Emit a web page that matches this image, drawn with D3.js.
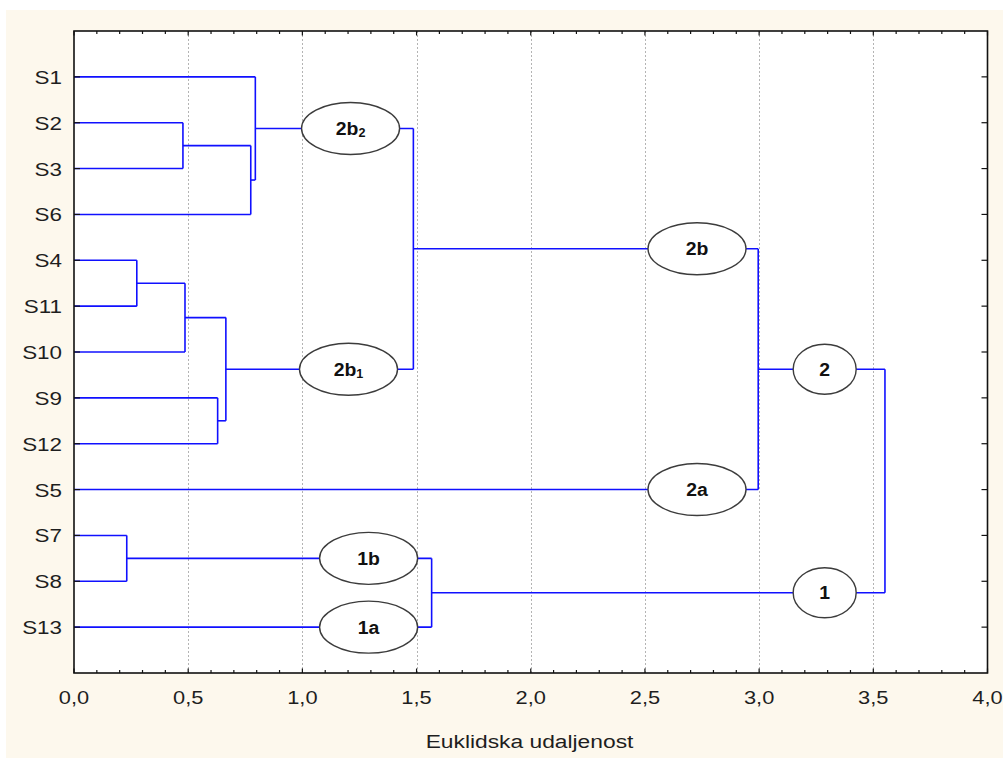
<!DOCTYPE html>
<html>
<head>
<meta charset="utf-8">
<script src="https://cdn.jsdelivr.net/npm/d3@7"></script>
<style>
  html, body { margin: 0; padding: 0; background: #ffffff; }
  svg { display: block; }
</style>
</head>
<body>
<svg id="chart" width="1003" height="758"></svg>
<script>
// ---------------- DATA ----------------
const leaves = ["S1","S2","S3","S6","S4","S11","S10","S9","S12","S5","S7","S8","S13"];
// merges: [id, upper child, lower child, Euclidean distance]
const mergeIds      = ["c1","c2","c3","c4","c5","c6","c7","c8","c9","c10","c11","c12"];
const mergeA        = ["S2","c1","S1","S4","c4","S9","c5","c3","c8","S7","c10","c9"];
const mergeB        = ["S3","S6","c2","S11","S10","S12","c6","c7","S5","S8","S13","c11"];
const mergeDistance = [0.477,0.774,0.794,0.275,0.486,0.629,0.665,1.486,2.996,0.231,1.566,3.551];
// group annotations (ellipses)
const groupNames = ["2b","2b","2b","2a","2","1","1b","1a"];
const groupSubs  = ["2","1","","","","","",""];
const groupNodes = ["c3","c7","c8","S5","c9","c11","c10","S13"];
const groupDist  = [1.211,1.202,2.728,2.728,3.287,3.287,1.29,1.29];
const xTicks = [0,0.5,1,1.5,2,2.5,3,3.5,4];
const xTitle = "Euklidska udaljenost";

// ---------------- STYLE ----------------
const W = 1003, H = 758;
const plot = {left: 74, right: 987.5, top: 31, bottom: 673};
const lineColor = "#1010ff";
const textColor = "#1e1e1e";
const fontFam = "'Liberation Sans', Arial, sans-serif";
const ellipseSize = { big: [49, 26], small: [31.5, 25] };

const svg = d3.select("#chart");

// backgrounds
svg.append("rect").attr("x",0).attr("y",0).attr("width",W).attr("height",H).attr("fill","#ffffff");
svg.append("rect").attr("x",6).attr("y",10).attr("width",W-6).attr("height",H-10).attr("fill","#fdf8ed");
svg.append("rect").attr("x",plot.left).attr("y",plot.top)
   .attr("width",plot.right-plot.left).attr("height",plot.bottom-plot.top).attr("fill","#ffffff");

const x = d3.scaleLinear().domain([0,4]).range([plot.left, plot.right]);
const y = d3.scalePoint().domain(leaves).range([plot.top, plot.bottom]).padding(1);

// grid
svg.append("g").selectAll("line").data(xTicks.filter(t => t > 0 && t < 4)).join("line")
  .attr("x1", d => Math.round(x(d))+0.5).attr("x2", d => Math.round(x(d))+0.5)
  .attr("y1", plot.top).attr("y2", plot.bottom)
  .attr("stroke","#b4b4b4").attr("stroke-width",1).attr("stroke-dasharray","2,2");

// node geometry
const nodeY = {}, nodeH = {}, parentOf = {};
leaves.forEach(l => { nodeY[l] = y(l); nodeH[l] = 0; });
mergeIds.forEach((id,i) => {
  nodeY[id] = (nodeY[mergeA[i]] + nodeY[mergeB[i]]) / 2;
  nodeH[id] = mergeDistance[i];
  parentOf[mergeA[i]] = id; parentOf[mergeB[i]] = id;
});

const gL = svg.append("g").attr("fill","none").attr("stroke",lineColor).attr("stroke-width",1.6);
// horizontal links
Object.keys(parentOf).forEach(n => {
  gL.append("line")
    .attr("x1", x(nodeH[n])).attr("x2", x(nodeH[parentOf[n]]))
    .attr("y1", nodeY[n]).attr("y2", nodeY[n]);
});
// vertical links
mergeIds.forEach((id,i) => {
  gL.append("line")
    .attr("x1", x(mergeDistance[i])).attr("x2", x(mergeDistance[i]))
    .attr("y1", nodeY[mergeA[i]]).attr("y2", nodeY[mergeB[i]]);
});

// ellipses
groupNames.forEach((name,i) => {
  const cx = x(groupDist[i]), cy = nodeY[groupNodes[i]];
  const sz = (name.length + groupSubs[i].length) > 1 ? ellipseSize.big : ellipseSize.small;
  svg.append("ellipse").attr("cx",cx).attr("cy",cy).attr("rx",sz[0]).attr("ry",sz[1])
    .attr("fill","#ffffff").attr("stroke","#3c3c3c").attr("stroke-width",1.4);
  const t = svg.append("text")
    .attr("transform", `translate(${cx},${cy + 6.5}) scale(1.05,1)`)
    .attr("text-anchor","middle").attr("font-family",fontFam).attr("font-weight","bold")
    .attr("font-size",18.5).attr("fill","#111");
  t.append("tspan").text(name);
  if (groupSubs[i]) t.append("tspan").attr("font-size",12).attr("dy",2).text(groupSubs[i]);
});

// frame
svg.append("rect").attr("x",plot.left).attr("y",plot.top)
   .attr("width",plot.right-plot.left).attr("height",plot.bottom-plot.top)
   .attr("fill","none").attr("stroke","#111").attr("stroke-width",1.6);

// ticks top & bottom (every 0.1, inward)
const minor = d3.range(0, 41).map(i => i/10);
const gT = svg.append("g").attr("stroke","#111").attr("stroke-width",1.2);
minor.forEach((v,i) => {
  const len = (i % 5 === 0) ? 4.5 : 3;
  const xp = x(v);
  gT.append("line").attr("x1",xp).attr("x2",xp).attr("y1",plot.top).attr("y2",plot.top+len);
  gT.append("line").attr("x1",xp).attr("x2",xp).attr("y1",plot.bottom).attr("y2",plot.bottom-len);
});
// ticks left & right at rows
leaves.forEach(l => {
  gT.append("line").attr("x1",plot.left).attr("x2",plot.left+6).attr("y1",y(l)).attr("y2",y(l));
  gT.append("line").attr("x1",plot.right).attr("x2",plot.right-6).attr("y1",y(l)).attr("y2",y(l));
});

// y labels
leaves.forEach(l => {
  svg.append("text")
    .attr("transform", `translate(62,${y(l) + 7}) scale(1.18,1)`)
    .attr("text-anchor","end").attr("font-family",fontFam).attr("font-size",19)
    .attr("fill",textColor).text(l);
});
// x tick labels
const fmt = d3.format(".1f");
xTicks.forEach(t => {
  svg.append("text")
    .attr("transform", `translate(${x(t)},704) scale(1.15,1)`)
    .attr("text-anchor","middle").attr("font-family",fontFam).attr("font-size",19)
    .attr("fill",textColor).text(fmt(t).replace(".", ","));
});
// x title
svg.append("text")
  .attr("transform", `translate(529.5,748) scale(1.2,1)`)
  .attr("text-anchor","middle").attr("font-family",fontFam).attr("font-size",19)
  .attr("fill",textColor).text(xTitle);
</script>
</body>
</html>
